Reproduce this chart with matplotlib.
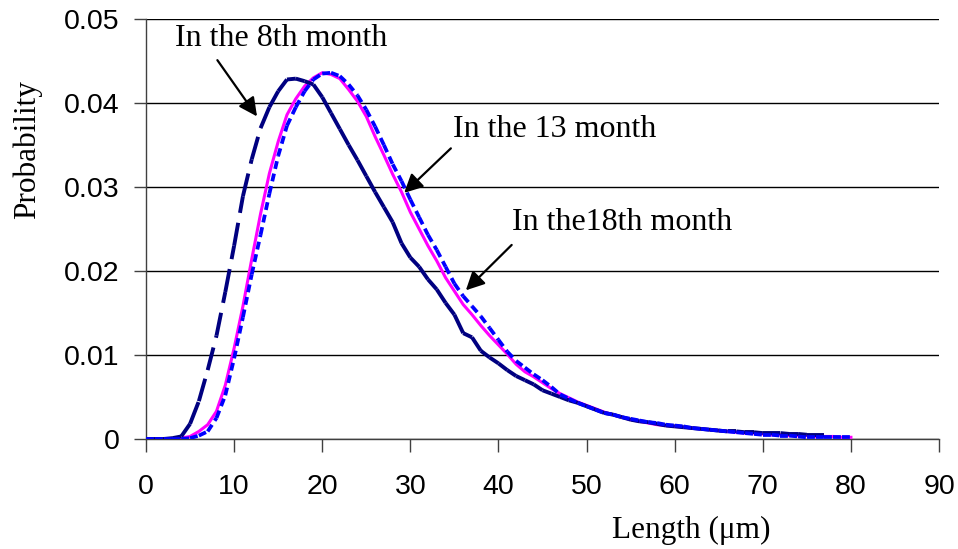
import numpy as np
import matplotlib.pyplot as plt
from matplotlib.collections import LineCollection

# length axis (um), one point per micron
length = np.arange(0, 81)

# In the 8th month (navy, long dash) - ends around 77 um
p_8th = [0, 0, 0, 0.0001, 0.0003, 0.0018, 0.0045, 0.0082, 0.0123, 0.0175,
         0.0230, 0.0289, 0.0333, 0.0370, 0.0395, 0.0414, 0.0428, 0.0429, 0.0426, 0.0422,
         0.0407, 0.0388, 0.0369, 0.0350, 0.0332, 0.0313, 0.0294, 0.0276, 0.0258, 0.0233,
         0.0216, 0.0205, 0.0190, 0.0178, 0.0162, 0.0148, 0.0126, 0.0121, 0.0105, 0.0097,
         0.0090, 0.0082, 0.0075, 0.0070, 0.0065, 0.0058, 0.0054, 0.0050, 0.0046, 0.0043,
         0.0039, 0.0035, 0.0031, 0.0029, 0.0026, 0.0023, 0.0021, 0.0020, 0.0018, 0.0016,
         0.0015, 0.0014, 0.0013, 0.0012, 0.0011, 0.0010, 0.0009, 0.0009, 0.0008, 0.0008,
         0.0007, 0.0007, 0.0007, 0.0006, 0.0006, 0.0005, 0.0005, 0.0005]

# In the 13 month (magenta, solid)
p_13th = [0, 0, 0, 0, 0.0001, 0.0003, 0.0009, 0.0017, 0.0033, 0.0064,
          0.0108, 0.0158, 0.0214, 0.0268, 0.0316, 0.0354, 0.0386, 0.0405, 0.0420, 0.0430,
          0.0436, 0.0434, 0.0429, 0.0416, 0.0402, 0.0384, 0.0360, 0.0338, 0.0315, 0.0294,
          0.0270, 0.0250, 0.0230, 0.0212, 0.0192, 0.0176, 0.0160, 0.0148, 0.0135, 0.0123,
          0.0112, 0.0101, 0.0089, 0.0080, 0.0074, 0.0067, 0.0060, 0.0054, 0.0049, 0.0044,
          0.0040, 0.0036, 0.0032, 0.0029, 0.0026, 0.0023, 0.0021, 0.0019, 0.0017, 0.0016,
          0.0015, 0.0014, 0.0013, 0.0012, 0.0011, 0.0010, 0.0009, 0.0008, 0.0007, 0.0007,
          0.0006, 0.0005, 0.0005, 0.0004, 0.0004, 0.0004, 0.0003, 0.0003, 0.0003, 0.0002,
          0.0002]

# In the 18th month (blue, dotted)
p_18th = [0, 0, 0, 0, 0, 0.0001, 0.0004, 0.0009, 0.0025, 0.0052,
          0.0096, 0.0145, 0.0196, 0.0243, 0.0292, 0.0337, 0.0373, 0.0395, 0.0414, 0.0428,
          0.0435, 0.0436, 0.0432, 0.0422, 0.0409, 0.0392, 0.0372, 0.0350, 0.0327, 0.0307,
          0.0285, 0.0264, 0.0243, 0.0225, 0.0205, 0.0185, 0.0170, 0.0158, 0.0146, 0.0132,
          0.0118, 0.0104, 0.0093, 0.0085, 0.0077, 0.0070, 0.0062, 0.0053, 0.0048, 0.0043,
          0.0039, 0.0035, 0.0031, 0.0029, 0.0026, 0.0024, 0.0022, 0.0020, 0.0019, 0.0017,
          0.0016, 0.0015, 0.0013, 0.0012, 0.0011, 0.0010, 0.0009, 0.0008, 0.0007, 0.0006,
          0.0005, 0.0005, 0.0004, 0.0004, 0.0003, 0.0002, 0.0002, 0.0002, 0.0002, 0.0002,
          0.0002]

x_ticks = [0, 10, 20, 30, 40, 50, 60, 70, 80, 90]
y_ticks = [0, 0.01, 0.02, 0.03, 0.04, 0.05]
y_tick_labels = ["0", "0.01", "0.02", "0.03", "0.04", "0.05"]

serif = "Liberation Serif"
sans = "Liberation Sans"


def segments(x, y):
    # one segment per pair of points, so the dash pattern restarts (Excel style)
    pts = np.column_stack([x, y])
    return np.stack([pts[:-1], pts[1:]], axis=1)


fig = plt.figure(figsize=(9.58, 5.49), dpi=100)
ax = fig.add_axes([0.1524, 0.2004, 0.8278, 0.765])

ax.plot(length[:len(p_13th)], p_13th, color="#FF00FF", lw=2.2, zorder=3)

lc8 = LineCollection(segments(length[:len(p_8th)], p_8th), colors="#000080",
                     linewidths=2.8, linestyles=[(0, (6.0, 2.6))], zorder=4)
ax.add_collection(lc8)

lc18 = LineCollection(segments(length[:len(p_18th)], p_18th), colors="#0000FF",
                      linewidths=2.7, linestyles=[(0, (2.1, 1.3))], zorder=5)
ax.add_collection(lc18)

ax.set_xlim(0, 90)
ax.set_ylim(0, 0.05)
ax.set_xticks(x_ticks)
ax.set_yticks(y_ticks)
ax.set_yticklabels(y_tick_labels)
ax.tick_params(direction="out", length=9, width=1, color="#404040")
ax.tick_params(axis="y", pad=10)
ax.tick_params(axis="x", pad=16)
for lab in ax.get_xticklabels() + ax.get_yticklabels():
    lab.set_fontfamily(sans)
    lab.set_fontsize(20.5)

ax.grid(axis="y", color="black", lw=1)
ax.set_axisbelow(True)
for side in ["top", "right"]:
    ax.spines[side].set_visible(False)
for side in ["left", "bottom"]:
    ax.spines[side].set_color("#404040")
    ax.spines[side].set_linewidth(1)

ax.set_xlabel("Length (μm)", fontfamily=serif, fontsize=22.5)
ax.xaxis.set_label_coords(0.687, -0.219)
ax.xaxis.label.set_va("center")
ax.set_ylabel("Probability", fontfamily=serif, fontsize=22.5)
ax.yaxis.set_label_coords(-0.150, 0.688)
ax.yaxis.label.set_va("center")

# labels with arrows
arrow = dict(arrowstyle="-|>", color="black", lw=1.6, mutation_scale=28,
             shrinkA=0, shrinkB=0)
ax.annotate("", xy=(12.6, 0.0384), xytext=(8.1, 0.0451), arrowprops=arrow, zorder=6)
ax.annotate("", xy=(29.3, 0.0293), xytext=(34.6, 0.0346), arrowprops=arrow, zorder=6)
ax.annotate("", xy=(36.3, 0.0177), xytext=(41.5, 0.0231), arrowprops=arrow, zorder=6)

ax.text(15.3, 0.0477, "In the 8th month", fontfamily=serif, fontsize=23,
        ha="center", va="center")
ax.text(46.4, 0.0368, "In the 13 month", fontfamily=serif, fontsize=23,
        ha="center", va="center")
ax.text(54.0, 0.0258, "In the18th month", fontfamily=serif, fontsize=23,
        ha="center", va="center")

fig.savefig("out.png", dpi=100)
